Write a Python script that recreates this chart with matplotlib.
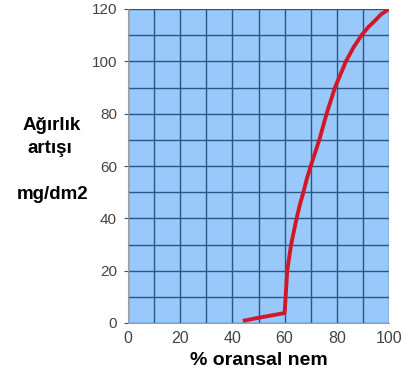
import matplotlib.pyplot as plt

plt.rcParams['font.family'] = ['Liberation Sans', 'DejaVu Sans']

# veri: oransal nem (%) ve ağırlık artışı (mg/dm2), grafikten okunan noktalar
nem = [44, 50, 60, 60.4, 61.0, 62.5, 64.6, 65.8, 67.2, 68.5, 70.0, 73.3, 76.1,
       79.3, 83.5, 86.5, 89.5, 92.0, 94.6, 97.0, 100]
artis = [0.8, 2.0, 3.8, 10, 20, 30, 40, 45, 50, 55, 60, 70, 80,
         90, 100, 105.5, 110, 113, 115.5, 118, 120]

x_ticks = [0, 20, 40, 60, 80, 100]
y_ticks = [0, 20, 40, 60, 80, 100, 120]

grid_col = "#2d5583"
bg_col = "#99c8fb"

fig = plt.figure(figsize=(4.11, 3.76), dpi=100)
ax = fig.add_axes([128 / 411, 53 / 376, 261 / 411, 314 / 376])
ax.set_facecolor(bg_col)

ax.set_xlim(0, 100)
ax.set_ylim(0, 120)
ax.set_xticks(range(0, 101, 10), minor=True)
ax.set_yticks(range(0, 121, 10), minor=True)
ax.set_xticks(x_ticks)
ax.set_yticks(y_ticks)
ax.grid(True, which="both", color=grid_col, linewidth=1)
ax.set_axisbelow(True)

ax.plot(nem, artis, color="#d01828", linewidth=2.8, solid_joinstyle="round",
        solid_capstyle="butt", zorder=3)

for s in ax.spines.values():
    s.set_visible(False)
ax.spines["left"].set_visible(True)
ax.spines["left"].set_color("#a0a0a0")
ax.spines["bottom"].set_visible(True)
ax.spines["bottom"].set_color("#a0a0a0")

ax.tick_params(axis="both", which="both", length=0, labelcolor="#444444")
ax.tick_params(axis="y", which="major", length=3, color=grid_col, pad=5, labelsize=11)
ax.tick_params(axis="x", pad=6, labelsize=11.5)

ax.set_xlabel("% oransal nem", fontsize=14, fontweight="bold", labelpad=4)

# y ekseni başlığı, üç parça halinde
fig.text(52 / 411, 1 - 126 / 376, "Ağırlık", ha="center", va="center",
         fontsize=13.5, fontweight="bold")
fig.text(50 / 411, 1 - 149 / 376, "artışı", ha="center", va="center",
         fontsize=13.5, fontweight="bold")
fig.text(53 / 411, 1 - 195 / 376, "mg/dm2", ha="center", va="center",
         fontsize=13.5, fontweight="bold")

fig.savefig("out.png", dpi=100)
